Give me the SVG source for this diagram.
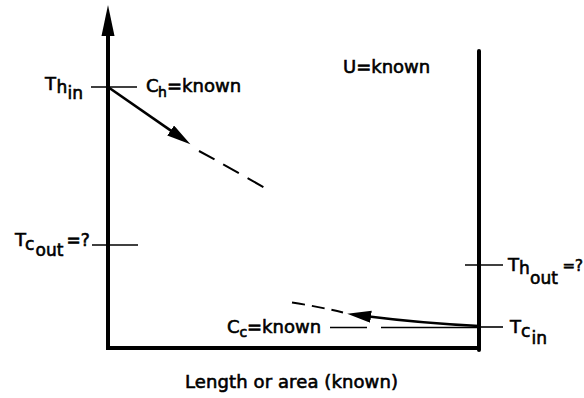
<svg xmlns="http://www.w3.org/2000/svg" width="584" height="398" viewBox="0 0 584 398">
<style>
text{font-family:"DejaVu Sans","Liberation Sans",sans-serif;fill:#000;stroke:#000;stroke-width:0.6}
.axis{stroke:#000;stroke-width:4;fill:none}
.tick{stroke:#000;stroke-width:1.6;fill:none}
.flow{stroke:#000;stroke-width:2.6;fill:none}
.dashh{stroke:#000;stroke-width:2;fill:none;stroke-dasharray:18 10}
.dashc{stroke:#000;stroke-width:2;fill:none;stroke-dasharray:13 7}
.m{font-size:18px}
.s{font-size:17px}
.ss{font-size:15px}
.sc{font-size:14px}
</style>
<defs>
<marker id="ah" markerUnits="userSpaceOnUse" markerWidth="30" markerHeight="14" refX="2" refY="6" orient="auto">
<path d="M0,0 L24,6 L0,12 Z" fill="#000"/>
</marker>
</defs>
<g id="axes">
<line class="axis" x1="108" y1="30" x2="108" y2="350"/>
<polygon points="108,5 114.5,36 101.5,36" fill="#000"/>
<line class="axis" x1="106" y1="348" x2="481" y2="348"/>
<line class="axis" x1="479" y1="51" x2="479" y2="350" stroke-linecap="round"/>
</g>
<g id="connectors">
<line class="flow" x1="108" y1="87" x2="172.3" y2="131.6" marker-end="url(#ah)"/>
<path class="dashh" d="M199,151 Q234,170 270,191"/>
<path class="flow" d="M479,326 Q420,323 369,316.5" marker-end="url(#ah)"/>
<path class="dashc" d="M292,302.5 Q318,306.5 343,312.5"/>
</g>
<g id="T_h_in">
<line class="tick" x1="91" y1="87" x2="137" y2="87"/>
<text class="m" x="45" y="90">T<tspan class="s" x="56.5" y="93">h</tspan><tspan class="s" x="67.5" y="99">in</tspan></text>
</g>
<g id="C_h">
<text class="m" x="146" y="92">C<tspan class="sc" x="158" y="97">h</tspan><tspan x="167" y="92">=known</tspan></text>
</g>
<g id="U">
<text class="m" x="343" y="73">U=known</text>
</g>
<g id="T_c_out">
<line class="tick" x1="92" y1="245" x2="138" y2="245"/>
<text class="m" x="15" y="246">T<tspan class="s" x="25" y="250">c</tspan><tspan class="s" x="35.5" y="256">out</tspan><tspan class="s" x="66.5" y="246">=?</tspan></text>
</g>
<g id="T_h_out">
<line class="tick" x1="465" y1="265" x2="503" y2="265"/>
<text class="m" x="508" y="271">T<tspan class="s" x="519" y="274">h</tspan><tspan class="s" x="530" y="284">out</tspan><tspan class="ss" x="562.5" y="271">=?</tspan></text>
</g>
<g id="T_c_in">
<line class="tick" x1="479" y1="327" x2="503" y2="327"/>
<text class="m" x="510" y="333">T<tspan class="s" x="521" y="337">c</tspan><tspan class="s" x="531.5" y="344">in</tspan></text>
</g>
<g id="C_c">
<text class="m" x="227" y="333">C<tspan class="sc" x="239.5" y="337">c</tspan><tspan x="247" y="333">=known</tspan></text>
<line class="tick" x1="330" y1="327.5" x2="367" y2="327.5"/>
<line class="tick" x1="381" y1="327.5" x2="479" y2="327.5"/>
</g>
<g id="xlabel">
<text class="m" x="185" y="388" textLength="213">Length or area (known)</text>
</g>
</svg>
